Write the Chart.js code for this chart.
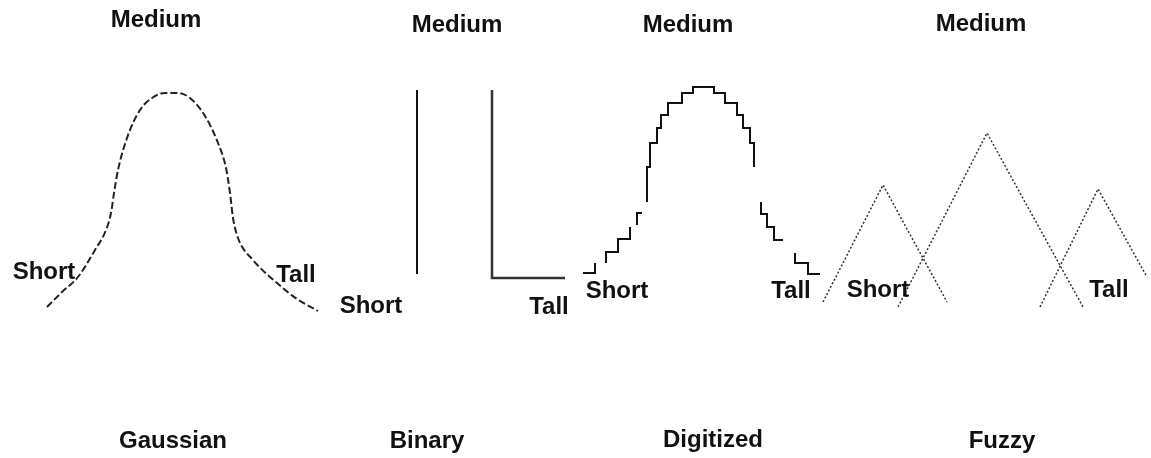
<!DOCTYPE html>
<html lang="en">
<head>
  <meta charset="UTF-8" />
  <title>Membership functions</title>
  <script src="https://cdn.jsdelivr.net/npm/chart.js@4/dist/chart.umd.min.js"></script>
  <style>
    html, body { margin: 0; padding: 0; background: #fff; }
    #fig { display: block; }
  </style>
</head>
<body>
  <canvas id="fig" width="1151" height="458"></canvas>
  <script>
    // plot space: x 0..1151, y 0..458 (height above the bottom edge)
    const W = 1151, H = 458;

    // gaussian curve
    const gaussX = [47, 62, 78, 95, 106, 111, 114, 118, 127, 140, 152, 165, 177, 190, 205, 218, 226, 230, 233, 238, 253, 277, 297, 318];
    const gaussY = [151, 166, 181, 208, 228, 245, 265, 288, 320, 348, 360, 365, 365, 360, 342, 315, 290, 265, 240, 220, 198, 175, 159, 147];

    // binary: a bare bar and an L shape
    const binShortX = [417, 417];
    const binShortY = [368, 184];
    const binTallX = [492, 492, 565];
    const binTallY = [368, 180, 180];

    // digitized staircase, null = break in the line
    const digiX = [583, 595, 595, null,
      606, 606, 618, 618, 630, 630, null,
      637, 637, 642, null,
      647, 647, 650, 650, 657, 657, 661, 661, 668, 668, 682, 682, 693, 693, 714, 714, 725, 725, 737, 737, 743, 743, 750, 750, 754, 754, null,
      761, 761, 767, 767, 774, 774, 783, null,
      795, 795, 808, 808, 820];
    const digiY = [185, 185, 195, null,
      195, 206, 206, 219, 219, 231, null,
      233, 245, 245, null,
      256, 291, 291, 315, 315, 330, 330, 343, 343, 355, 355, 365, 365, 371, 371, 365, 365, 355, 355, 343, 343, 330, 330, 315, 315, 291, null,
      256, 244, 244, 231, 231, 218, 218, null,
      205, 195, 195, 184, 184];

    // fuzzy triangles
    const fzShortX = [823, 883, 947];
    const fzShortY = [156, 273, 156];
    const fzMedX = [898, 987, 1083];
    const fzMedY = [151, 325, 151];
    const fzTallX = [1040, 1098, 1147];
    const fzTallY = [151, 269, 181];

    // text
    const titleText = ['Medium', 'Medium', 'Medium', 'Medium'];
    const titleX = [156, 457, 688, 981];
    const titleY = [438, 433, 433, 434];
    const nameText = ['Gaussian', 'Binary', 'Digitized', 'Fuzzy'];
    const nameX = [173, 427, 713, 1002];
    const nameY = [17, 17, 18, 17];
    const tagText = ['Short', 'Tall', 'Short', 'Tall', 'Short', 'Tall', 'Short', 'Tall'];
    const tagX = [44, 296, 371, 549, 617, 791, 878, 1109];
    const tagY = [186, 183, 152, 151, 167, 167, 168, 168];

    const pts = (xs, ys) => xs.map((x, i) => ({ x, y: ys[i] }));

    // cut the staircase into runs at the nulls
    function runs(xs, ys) {
      const out = [];
      let cur = [];
      xs.forEach((x, i) => {
        if (x === null) { if (cur.length) out.push(cur); cur = []; }
        else cur.push({ x, y: ys[i] });
      });
      if (cur.length) out.push(cur);
      return out;
    }

    const textPlugin = {
      id: 'diagramText',
      afterDraw(chart) {
        const ctx = chart.ctx;
        const sx = chart.scales.x, sy = chart.scales.y;
        ctx.save();
        ctx.fillStyle = '#111';
        ctx.textAlign = 'center';
        ctx.textBaseline = 'middle';
        ctx.font = 'bold 24px "Liberation Sans", Arial, sans-serif';
        const put = (texts, xs, ys) => texts.forEach((t, i) => {
          ctx.fillText(t, sx.getPixelForValue(xs[i]), sy.getPixelForValue(ys[i]));
        });
        put(titleText, titleX, titleY);
        put(nameText, nameX, nameY);
        put(tagText, tagX, tagY);
        ctx.restore();
      }
    };

    const base = { showLine: true, pointRadius: 0, fill: false };
    const square = { ...base, stepped: 'after' };
    const fuzzy = { ...base, borderColor: '#333', borderWidth: 1.5, borderDash: [2, 2] };

    const digiSets = runs(digiX, digiY).map(seg => ({ ...square, data: seg, borderColor: '#111', borderWidth: 2 }));

    new Chart(document.getElementById('fig'), {
      type: 'scatter',
      data: {
        datasets: [
          { ...base, data: pts(gaussX, gaussY), borderColor: '#222', borderWidth: 2, borderDash: [7, 3], cubicInterpolationMode: 'monotone' },
          { ...square, data: pts(binShortX, binShortY), borderColor: '#111', borderWidth: 2 },
          { ...square, data: pts(binTallX, binTallY), borderColor: '#333', borderWidth: 2.5 },
          ...digiSets,
          { ...fuzzy, data: pts(fzShortX, fzShortY) },
          { ...fuzzy, data: pts(fzMedX, fzMedY) },
          { ...fuzzy, data: pts(fzTallX, fzTallY) }
        ]
      },
      options: {
        responsive: false,
        animation: false,
        layout: { padding: 0 },
        plugins: { legend: { display: false }, tooltip: { enabled: false } },
        scales: {
          x: { type: 'linear', min: 0, max: W, display: false },
          y: { type: 'linear', min: 0, max: H, display: false }
        }
      },
      plugins: [textPlugin]
    });
  </script>
</body>
</html>
